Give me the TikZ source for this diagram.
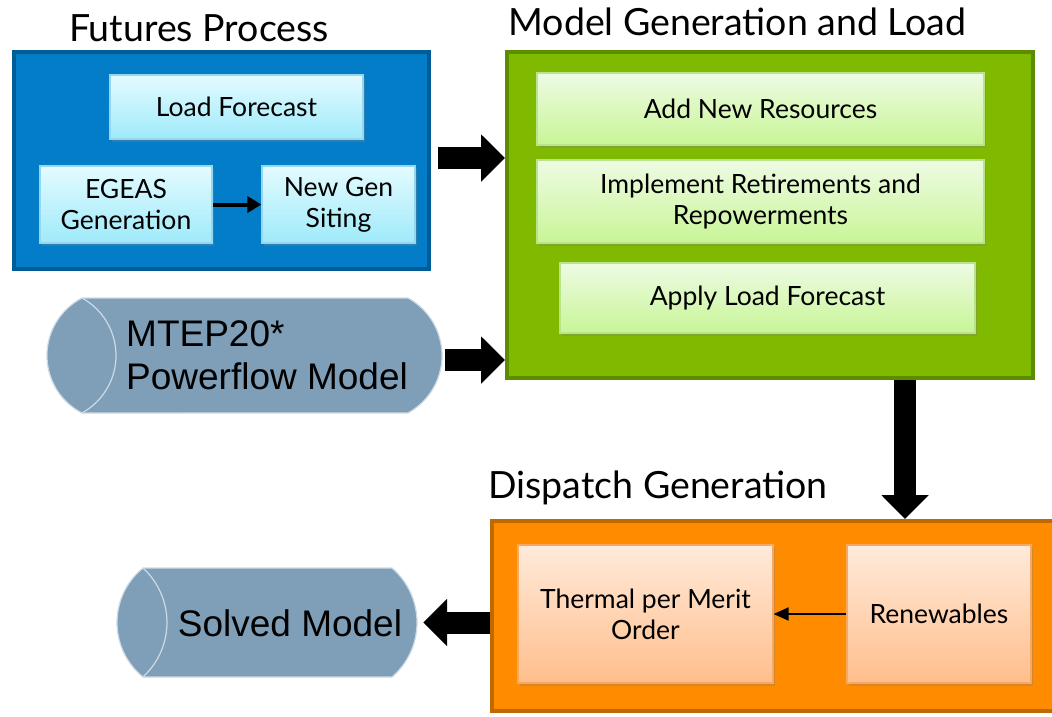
\documentclass[tikz,border=0pt]{standalone}
\usepackage{fontspec}
\setmainfont{Lato}
\newfontfamily\arialf{Liberation Sans}
\usetikzlibrary{arrows.meta,shadows}
\definecolor{bluefill}{RGB}{3,125,200}
\definecolor{blueline}{RGB}{0,92,150}
\definecolor{greenfill}{RGB}{127,186,0}
\definecolor{greenline}{RGB}{92,140,0}
\definecolor{orangefill}{RGB}{255,140,0}
\definecolor{orangeline}{RGB}{192,105,0}
\definecolor{cylfill}{RGB}{127,159,184}
\definecolor{cylline}{RGB}{205,218,230}
\definecolor{cyantop}{RGB}{228,251,255}
\definecolor{cyanbot}{RGB}{158,234,250}
\definecolor{cyanline}{RGB}{150,215,238}
\definecolor{gtop}{RGB}{238,251,228}
\definecolor{gbot}{RGB}{200,245,150}
\definecolor{gline}{RGB}{185,228,140}
\definecolor{otop}{RGB}{255,234,218}
\definecolor{obot}{RGB}{255,190,140}
\definecolor{oline}{RGB}{248,168,96}
\tikzset{
  outerbox/.style={draw, line width=4pt, inner sep=0pt},
  innerbox/.style={line width=1.2pt, inner sep=0pt, align=center,
    font=\fontsize{26.5}{31}\selectfont,
    drop shadow={shadow xshift=1.5pt, shadow yshift=-2.5pt, opacity=0.35}},
  cyanbox/.style={innerbox, draw=cyanline, top color=cyantop, bottom color=cyanbot},
  grbox/.style={innerbox, draw=gline, top color=gtop, bottom color=gbot},
  orbox/.style={innerbox, draw=oline, top color=otop, bottom color=obot},
  titletext/.style={anchor=base, inner sep=0pt, font=\fontsize{37.5}{42}\selectfont},
  cyltext/.style={inner sep=0pt, align=left, font=\arialf\fontsize{37}{43}\selectfont},
  cylbody/.style={fill=cylfill, draw=cylline, line width=1.2pt},
  blockarrow/.style={line width=22pt, -{Triangle[width=46pt,length=24pt]}},
  smallarrow/.style={line width=4pt, -{Triangle[width=16pt,length=14pt]}},
  thinarrow/.style={line width=2pt, -{Triangle[width=13pt,length=15pt]}}
}
\begin{document}
\begin{tikzpicture}[x=1pt,y=-1pt]
\useasboundingbox (0,0) rectangle (1052,716);

% titles
\node[titletext] (t1) at (199,41) {Futures Process};
\node[titletext] (t2) at (737.5,35) {Model Generation and Load};
\node[titletext] (t3) at (658,498) {Dispatch Generation};

% outer boxes
\node[outerbox, draw=blueline, fill=bluefill, minimum width=415pt, minimum height=217pt] (blue) at (221.5,160.5) {};
\node[outerbox, draw=greenline, fill=greenfill, minimum width=526pt, minimum height=326pt] (green) at (770,215) {};
\node[outerbox, draw=orangeline, fill=orangefill, minimum width=564pt, minimum height=190pt] (orange) at (774,616) {};

% futures process contents
\node[cyanbox, minimum width=253pt, minimum height=64pt] (lf) at (236.5,107) {Load Forecast};
\node[cyanbox, minimum width=172pt, minimum height=77pt] (egeas) at (126,204.5) {EGEAS\\Generation};
\node[cyanbox, minimum width=153pt, minimum height=77pt] (newgen) at (338.5,204.5) {New Gen\\Siting};
\draw[smallarrow] (egeas.east) -- (newgen.west);

% model generation contents
\node[grbox, minimum width=447pt, minimum height=72pt] (anr) at (760.5,109) {Add New Resources};
\node[grbox, minimum width=447pt, minimum height=83pt] (irr) at (760.5,201.5) {Implement Retirements and\\Repowerments};
\node[grbox, minimum width=415pt, minimum height=70pt] (alf) at (767.5,298) {Apply Load Forecast};

% dispatch contents
\node[orbox, minimum width=255pt, minimum height=138pt] (thermal) at (645.5,614) {Thermal per Merit\\Order};
\node[orbox, minimum width=184pt, minimum height=138pt] (renew) at (939,614) {Renewables};
\draw[thinarrow] (renew.west) -- (thermal.east);

% MTEP cylinder
\node[inner sep=0pt, minimum width=395pt, minimum height=115pt] (mtep) at (244.5,355.5) {};
\path[cylbody] (82,298) -- (408,298) arc[start angle=-61.2, end angle=61.2, radius=65.6]
  -- (82,413) arc[start angle=117.3, end angle=242.7, radius=64.7] -- cycle;
\draw[draw=cylline, line width=1.2pt] (82,298) arc[start angle=-61.2, end angle=61.2, radius=65.6];
\node[cyltext, anchor=west] (mteptxt) at (126,355) {MTEP20*\\Powerflow Model};

% Solved model cylinder
\node[inner sep=0pt, minimum width=300pt, minimum height=109pt] (solved) at (267,622.5) {};
\path[cylbody] (143,568) -- (392,568) arc[start angle=-49.3, end angle=49.3, radius=71.9]
  -- (143,677) arc[start angle=129, end angle=231, radius=70.1] -- cycle;
\draw[draw=cylline, line width=1.2pt] (143,568) arc[start angle=-47.5, end angle=47.5, radius=73.9];
\node[cyltext, anchor=center] (solvedtxt) at (290,623) {Solved Model};

% block arrows
\draw[blockarrow] ([xshift=7pt,yshift=2.5pt]blue.east) -- ([yshift=2.5pt]blue.east -| green.west);
\draw[blockarrow] ([xshift=3pt,yshift=-4.5pt]mtep.east) -- ([yshift=-4.5pt]mtep.east -| green.west);
\draw[blockarrow] ([xshift=135pt]green.south) -- ([xshift=135pt]green.south |- orange.north);
\draw[blockarrow] (orange.west |- solved.east) -- ([xshift=6pt]solved.east);
\end{tikzpicture}
\end{document}
